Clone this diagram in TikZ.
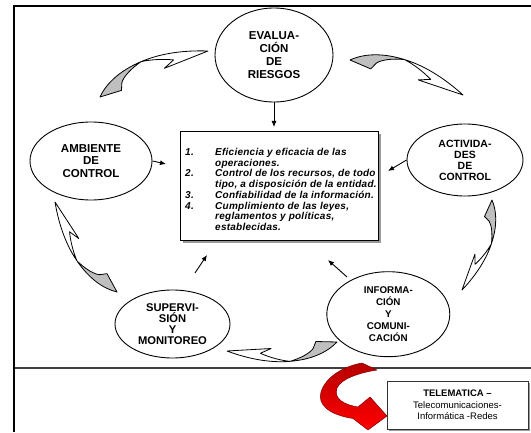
\documentclass[tikz,border=0pt]{standalone}
\usepackage{fontspec}
\setmainfont{Liberation Sans}
\usetikzlibrary{shapes.geometric,arrows.meta,shadows}
\newcommand{\swoosh}[4]{%
  \pgfmathsetmacro{\sdx}{#3-#1}%
  \pgfmathsetmacro{\sdy}{#4-#2}%
  \pgfmathsetmacro{\sndy}{-(#4-#2)}%
  \begin{scope}[shift={(#1,#2)}, x={(\sdx pt,\sdy pt)}, y={(\sndy pt,\sdx pt)}]
    \filldraw[swfill] (0,0) .. controls (0.1,0.09) and (0.25,0.14) .. (0.44,0.14)
      .. controls (0.34,0.12) and (0.25,0.08) .. (0.22,0.04) -- (0.19,-0.02) -- cycle;
    \filldraw[swhead] (0.44,0.14) .. controls (0.65,0.14) and (0.85,0.07) .. (1,0)
      -- (0.6,0.01) -- (0.7,0.045) .. controls (0.62,0.09) and (0.52,0.125) .. (0.44,0.14) -- cycle;
  \end{scope}}
\begin{document}
\begin{tikzpicture}[x=1pt,y=1pt,
  bub/.style={draw=black, line width=0.9pt, ellipse, inner sep=0pt, align=center},
  arr/.style={draw=black, line width=0.9pt, -{Latex[length=6pt,width=5pt]}},
  swfill/.style={fill=black!25, draw=black, line width=0.8pt, line join=round},
  swhead/.style={fill=white, draw=black, line width=0.8pt, line join=round},
  ]
\useasboundingbox (0,0) rectangle (531,432);
% frame
\draw[line width=2.4pt, line join=miter] (14,0) -- (14,426) -- (531,426);
\draw[line width=1.6pt, black!75] (15,64) -- (531,64);

% ellipses
\node[bub, minimum width=118pt, minimum height=94pt, font=\bfseries\fontsize{11.5}{13}\selectfont] (ev) at (274,377) {EVALUA-\\CIÓN\\DE\\RIESGOS};
\node[bub, minimum width=122pt, minimum height=78pt, font=\bfseries\fontsize{11.5}{12.5}\selectfont] (amb) at (91,271) {AMBIENTE\\DE\\CONTROL};
\node[bub, minimum width=116pt, minimum height=72pt, font=\bfseries\fontsize{10.5}{11}\selectfont] (act) at (465,272) {ACTIVIDA-\\DES\\DE\\CONTROL};
\node[bub, minimum width=115pt, minimum height=68pt, font=\bfseries\fontsize{11.2}{11.2}\selectfont] (sup) at (172.5,108) {SUPERVI-\\SIÓN\\Y\\MONITOREO};
\node[bub, minimum width=123pt, minimum height=85pt, font=\bfseries\fontsize{9.8}{12}\selectfont] (inf) at (388.3,117.8) {INFORMA-\\CIÓN\\Y\\COMUNI-\\CACIÓN};

% central box
\node[draw=black, line width=1.2pt, fill=white, minimum width=198pt, minimum height=109pt, inner sep=0pt, anchor=north west,
  drop shadow={shadow xshift=2.5pt, shadow yshift=-2.5pt, fill=black!40, opacity=1}] (box) at (180,301) {};
\node[anchor=base west, inner sep=0pt, font=\bfseries\itshape\fontsize{10}{10.75}\selectfont\addfontfeatures{LetterSpace=2.5}] (txt) at (185,276.5)
 {\begin{tabular}[t]{@{}p{30pt}@{}l@{}}
 1. & Eficiencia y eficacia de las\\
    & operaciones.\\
 2. & Control de los recursos, de todo\\
    & tipo, a disposición de la entidad.\\
 3. & Confiabilidad de la información.\\
 4. & Cumplimiento de las leyes,\\
    & reglamentos y políticas,\\
    & establecidas.
 \end{tabular}};

% straight arrows
\coordinate (e1) at (274,305);
\draw[arr] (ev.south) -- (e1);
\coordinate (e2) at (166,268);
\draw[arr] (amb.east) -- (e2);
\coordinate (e3) at (388,261);
\draw[arr] (act.west) -- (e3);
\coordinate (s4) at (195,159);
\coordinate (e4) at (207,177);
\draw[arr] (s4) -- (e4);
\coordinate (s5) at (347,155);
\coordinate (e5) at (328,172);
\draw[arr] (s5) -- (e5);

% curved grey arrows
\swoosh{100}{335}{208}{381}
\swoosh{350}{372}{463}{337}
\swoosh{492}{232}{462}{142}
\swoosh{337}{90}{227}{81}
\swoosh{117}{140}{55}{230}

% red arrow
\shadedraw[top color=red!72!black, bottom color=red, draw=red!50!black, line width=0.5pt, line join=round]
 (362,69) .. controls (345,66) and (326,56) .. (321,40)
 .. controls (317,27) and (330,17) .. (353,13.5)
 -- (368,2) -- (387,16) -- (370,35) -- (358,25)
 .. controls (345,27) and (333,33) .. (337,44)
 .. controls (341,53) and (358,59) .. (377,62) -- cycle;

% telematica box
\node[draw=black!80, line width=0.8pt, fill=white, minimum width=141pt, minimum height=48pt, inner sep=0pt, align=center,
  font=\fontsize{9.5}{11.5}\selectfont,
  drop shadow={shadow xshift=2pt, shadow yshift=-2pt, fill=black!40, opacity=1}] (tel) at (457.5,27)
  {\textbf{TELEMATICA –}\\Telecomunicaciones-\\Informática -Redes};
\end{tikzpicture}
\end{document}
